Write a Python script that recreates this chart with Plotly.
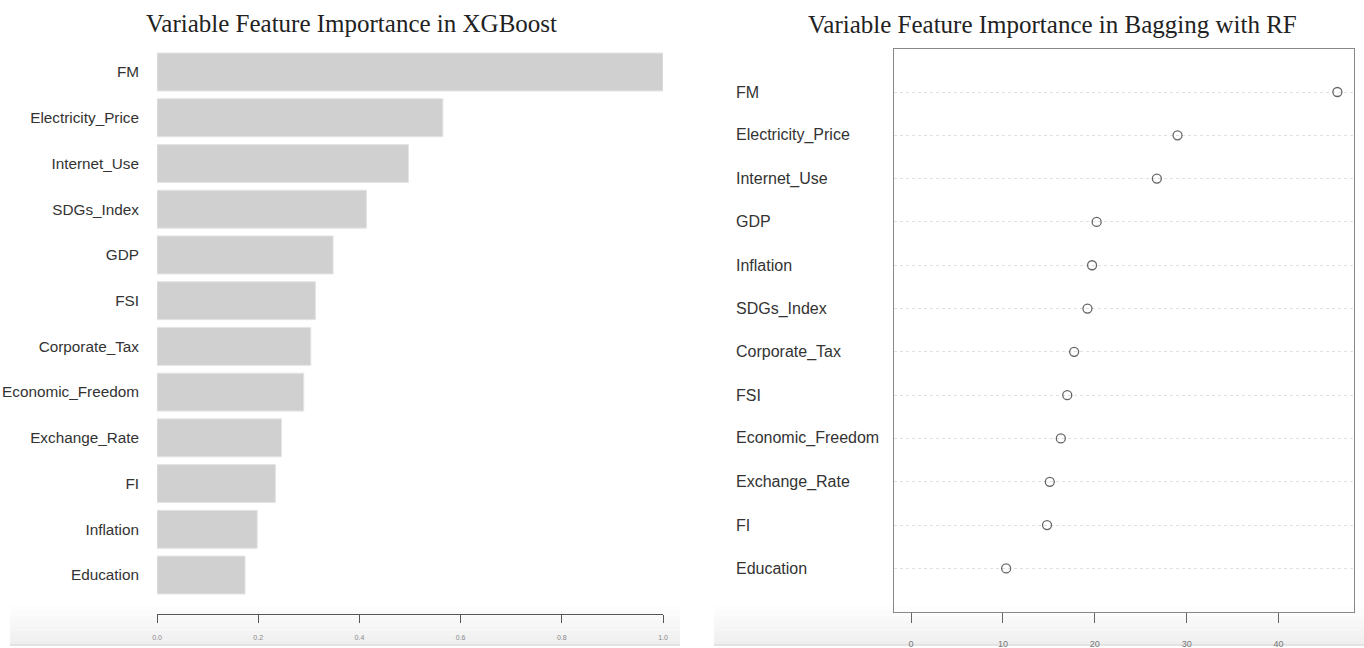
import plotly.graph_objects as go

# Feature importance values
features_xgb = ["FM", "Electricity_Price", "Internet_Use", "SDGs_Index", "GDP", "FSI",
                "Corporate_Tax", "Economic_Freedom", "Exchange_Rate", "FI", "Inflation", "Education"]
importance_xgb = [1.0, 0.565, 0.497, 0.414, 0.348, 0.313, 0.304, 0.290, 0.246, 0.234, 0.198, 0.174]

features_rf = ["FM", "Electricity_Price", "Internet_Use", "GDP", "Inflation", "SDGs_Index",
               "Corporate_Tax", "FSI", "Economic_Freedom", "Exchange_Rate", "FI", "Education"]
importance_rf = [46.4, 29.0, 26.75, 20.2, 19.7, 19.2, 17.75, 17.0, 16.3, 15.1, 14.8, 10.35]

xgb_ticks = [0.0, 0.2, 0.4, 0.6, 0.8, 1.0]
rf_ticks = [0, 10, 20, 30, 40]

W, H = 1364, 648


def px_x(p):
    return p / W


def px_y(p):
    return 1 - p / H


n = len(features_xgb)
rows_xgb = [n - i for i in range(n)]
rows_rf = [n - i for i in range(len(features_rf))]

fig = go.Figure()

# Left: horizontal bar chart
fig.add_trace(go.Bar(
    x=importance_xgb, y=rows_xgb, orientation="h", width=0.83,
    marker=dict(color="#cfd0cf", line=dict(color="#e4e4e4", width=1)),
    xaxis="x", yaxis="y", showlegend=False, hoverinfo="x",
))

# Right: dot chart
fig.add_trace(go.Scatter(
    x=importance_rf, y=rows_rf, mode="markers",
    marker=dict(symbol="circle-open", size=9, color="#666666", line=dict(width=1.3)),
    xaxis="x2", yaxis="y2", showlegend=False,
))

# Left panel row mapping: FM row centred at y=72 px, rows 45.73 px apart
row_px = 45.73
top_px, bot_px = 40, 614
y_lo = n - (bot_px - 72) / row_px
y_hi = n + (72 - top_px) / row_px

fig.update_layout(
    width=W, height=H,
    margin=dict(l=0, r=0, t=0, b=0, autoexpand=False),
    paper_bgcolor="white", plot_bgcolor="rgba(0,0,0,0)",
    font=dict(family="Liberation Sans, Arial, sans-serif", color="#333333"),
    xaxis=dict(
        domain=[px_x(157), px_x(663)], range=[0, 1], anchor="y", automargin=False,
        showgrid=False, zeroline=False, showline=True, linecolor="#555555", linewidth=1.2,
        ticks="outside", ticklen=8, tickcolor="#555555", tickwidth=1.2,
        tickvals=xgb_ticks, ticktext=[f"{v:.1f}" for v in xgb_ticks],
        tickfont=dict(size=7, color="#888888"), ticklabelstandoff=8,
    ),
    yaxis=dict(
        domain=[px_y(bot_px), px_y(top_px)], range=[y_lo, y_hi], anchor="x", automargin=False,
        showgrid=False, zeroline=False, showline=False,
        tickvals=rows_xgb, ticktext=features_xgb, ticks="",
        tickfont=dict(size=15.3, color="#333333"), ticklabelstandoff=17,
    ),
    xaxis2=dict(
        domain=[px_x(894), px_x(1354.3)], range=[-1.855, 48.24], anchor="y2", automargin=False,
        showgrid=False, zeroline=False, showline=True, mirror=True,
        linecolor="#888888", linewidth=1.2,
        ticks="outside", ticklen=10, tickcolor="#666666", tickwidth=1.2,
        tickvals=rf_ticks, ticktext=[str(v) for v in rf_ticks],
        tickfont=dict(size=9, color="#777777"), ticklabelstandoff=13,
    ),
    yaxis2=dict(
        domain=[px_y(611.7), px_y(48.7)], range=[0, n + 1], anchor="x2", automargin=False,
        showgrid=True, gridcolor="#e0e0e0", griddash="dot", gridwidth=1,
        zeroline=False, showline=True, mirror=True, linecolor="#888888", linewidth=1.2,
        tickvals=rows_rf, showticklabels=False, ticks="",
    ),
)

# Row labels for the dot chart, left aligned
for name, r in zip(features_rf, rows_rf):
    fig.add_annotation(
        x=(734 - 894) / (1354.3 - 894), xref="x2 domain", y=r, yref="y2",
        text=name, showarrow=False, xanchor="left", yanchor="middle",
        font=dict(size=16, color="#333333"),
    )

# Titles
title_font = dict(family="Liberation Serif, Times New Roman, serif", size=25, color="#222222")
fig.add_annotation(
    x=px_x(351), y=px_y(23), xref="paper", yref="paper",
    text="Variable Feature Importance in XGBoost", showarrow=False,
    xanchor="center", yanchor="middle", font=title_font,
)
fig.add_annotation(
    x=px_x(1052), y=px_y(25), xref="paper", yref="paper",
    text="Variable Feature Importance in Bagging with RF", showarrow=False,
    xanchor="center", yanchor="middle", font=title_font,
)

# Soft grey band along the bottom edge of each panel
shades = ["#fdfdfd", "#fbfbfb", "#f9f9f9", "#f7f7f7", "#f5f5f5", "#f3f3f3", "#f1f1f1", "#efefef"]
band_top, band_bot = 606, 645
step = (band_bot - band_top) / len(shades)
for x0, x1 in [(10, 680), (714, 1364)]:
    for k, c in enumerate(shades):
        fig.add_shape(
            type="rect", xref="paper", yref="paper", layer="below",
            x0=px_x(x0), x1=px_x(x1),
            y0=px_y(band_top + (k + 1) * step), y1=px_y(band_top + k * step),
            fillcolor=c, line=dict(width=0),
        )
    fig.add_shape(
        type="line", xref="paper", yref="paper", layer="below",
        x0=px_x(x0), x1=px_x(x1), y0=px_y(band_bot), y1=px_y(band_bot),
        line=dict(color="#dcdcdc", width=1.5),
    )

fig.write_html("out.html")
